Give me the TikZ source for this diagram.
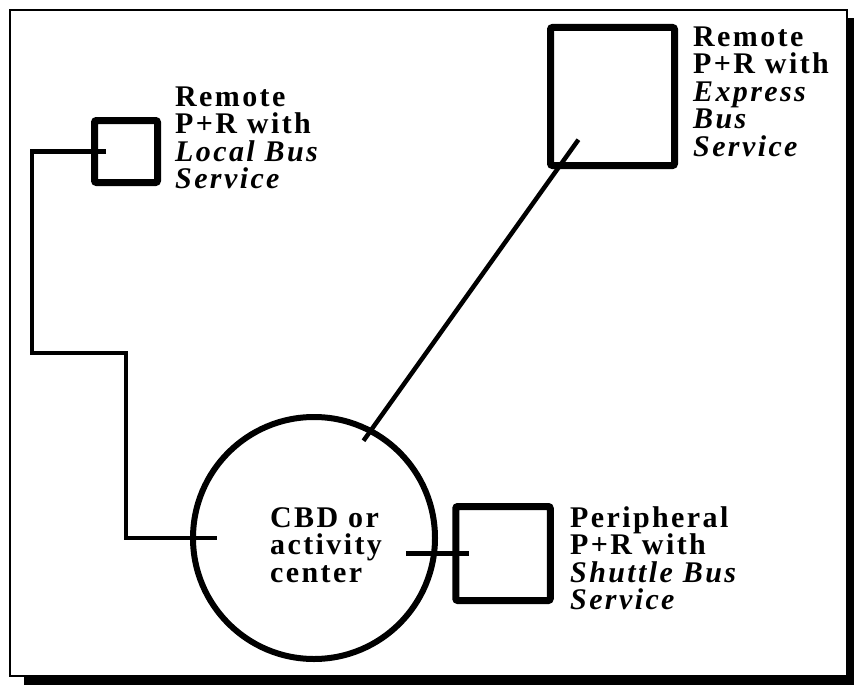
\documentclass[tikz,border=0pt]{standalone}
\usepackage{fontspec}
\setmainfont{Liberation Serif}[LetterSpace=8]
\usetikzlibrary{calc}
\tikzset{
	lot/.style={draw, line width=7pt, rounded corners=2pt, inner sep=0pt},
	conn/.style={line width=4.5pt},
	lbl/.style={anchor=base west, align=left, inner sep=0pt, font=\fontsize{30}{27.5}\selectfont\bfseries}
}
\begin{document}
\begin{tikzpicture}[x=1pt, y=-1pt]
	\useasboundingbox (0,0) rectangle (854,685);
	% frame with shadow
	\fill (24,18) rectangle (854,685);
	\draw[line width=2.5pt, fill=white] (10,10) rectangle (847,676);
	% lots and centre
	\node[lot, minimum width=63pt, minimum height=62pt] (loc) at (126,151.5) {};
	\node[lot, minimum width=124pt, minimum height=138pt] (exp) at (612.5,96.5) {};
	\node[lot, minimum width=94.5pt, minimum height=94pt] (per) at (503,553.5) {};
	\node[circle, draw, line width=6pt, minimum size=242pt, inner sep=0pt] (cbd) at (314,538) {};
	% labels (base = last line)
	\node[lbl] (cbdtxt) at (270,582) {CBD or\\activity\\center};
	\node[lbl] (loctxt) at (175,188.5) {Remote\\P+R with\\\textit{Local Bus}\\\textit{Service}};
	\node[lbl] (exptxt) at (693,156) {Remote\\P+R with\\\textit{Express}\\\textit{Bus}\\\textit{Service}};
	\node[lbl] (pertxt) at (570,609.5) {Peripheral\\P+R with\\\textit{Shuttle Bus}\\\textit{Service}};
	% connectors
	\coordinate (bend) at (32,353);
	\draw[conn] ($(loc.west)+(15,0)$) -| (bend) -| (loc |- cbd) -- ($(cbd.west)+(27,0)$);
	\draw[conn, shorten <=-15pt, shorten >=-36pt] (cbd.62) -- ($(exp.south west)+(10.5,0)$);
	\draw[conn] ($(per.west)+(-46,0)$) -- ($(per.west)+(17,0)$);
\end{tikzpicture}
\end{document}
